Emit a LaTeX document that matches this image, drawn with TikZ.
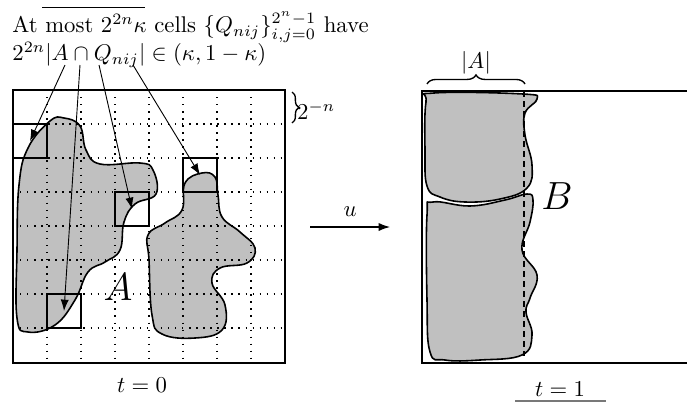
\documentclass[tikz,border=0pt]{standalone}
\usepackage{amsmath}
\usepackage{amssymb}
\usetikzlibrary{arrows.meta,positioning,decorations.pathreplacing}
\definecolor{blobcolor}{RGB}{192,192,192}
\definecolor{rulecolor}{RGB}{120,120,120}
\tikzset{
frame/.style={
  draw=black,
  line width=0.9pt
},
gridline/.style={
  draw=black,
  line width=0.45pt,
  dash pattern=on 0.6pt off 2.5pt
},
blob/.style={
  fill=blobcolor,
  draw=black,
  line width=0.7pt
},
cellbox/.style={
  draw=black,
  line width=1.3pt,
  minimum width=34*0.44pt,
  minimum height=34*0.44pt,
  inner sep=0pt
},
pointer/.style={
  -{Latex[length=5pt,width=3.6pt]},
  line width=0.4pt
},
maparrow/.style={
  -{Latex[length=5pt,width=3.6pt]},
  line width=0.5pt
},
levelline/.style={
  draw=black,
  line width=0.9pt,
  dash pattern=on 2.6pt off 1.8pt
},
bracedeco/.style={
  decorate,
  decoration={brace,amplitude=#1},
  line width=0.6pt
}
}

\begin{document}
\begin{tikzpicture}[x=0.44pt,y=-0.44pt]
  \useasboundingbox[fill=white] (0,0) rectangle (687,403);

  % Statement above the left panel
  \node[anchor=north west, align=left, inner sep=0pt] (claim) at (12,11)
    {At most $2^{2n}\kappa$ cells $\{Q_{nij}\}_{i,j=0}^{2^n-1}$ have\\[-1pt]
     $2^{2n}|A\cap Q_{nij}|\in(\kappa,1-\kappa)$};
  \coordinate (bar1) at (42,7);
  \coordinate (bar2) at (145,7);
  \draw[line width=0.4pt] (bar1) -- (bar2);

  % Set A at t = 0
  \draw[blob] plot[smooth cycle, tension=0.7] coordinates {
    (50,121) (64,118) (80,126) (86,150) (100,164) (140,163) (153,170)
    (156,194) (135,204) (124,222) (120,250) (105,262) (88,272)
    (75,300) (55,325) (28,332) (17,318) (17,250) (19,185) (28,148)};
  \draw[blob] plot[smooth cycle, tension=0.7] coordinates {
    (202,173) (215,177) (218,195) (222,217) (240,232) (255,248)
    (247,263) (220,268) (212,283) (225,305) (222,330) (195,338)
    (162,334) (152,315) (149,260) (148,235) (165,223) (182,210)
    (185,183)};
  \node[font=\LARGE, inner sep=0pt] (setA) at (118,287) {$A$};

  % Dyadic grid of side 2^{-n}
  \foreach \k in {1,...,7} {
    \draw[gridline] (13+34*\k,90) -- (13+34*\k,363);
    \draw[gridline] (13,90+34*\k) -- (285,90+34*\k);
  }

  % Cells met by the boundary
  \node[cellbox] (cellA) at (30,141) {};
  \node[cellbox] (cellB) at (132,209) {};
  \node[cellbox] (cellC) at (64,311) {};
  \node[cellbox] (cellD) at (200,175) {};

  \draw[frame] (13,90) rectangle (285,363);
  \draw[bracedeco=3pt] (292,92) -- (292,123)
    node[midway, right=2pt, yshift=-1.5pt, inner sep=0pt] (side) {$2^{-n}$};
  \node (time0) at (142,385) {$t=0$};

  % Pointers from the statement
  \coordinate (from1) at (65,65);
  \coordinate (from2) at (80,65);
  \coordinate (from3) at (99,65);
  \coordinate (from4) at (133,65);
  \draw[pointer] (from1) -- (cellA.center);
  \draw[pointer] (from2) -- (cellC.center);
  \draw[pointer] (from3) -- (cellB.center);
  \draw[pointer] (from4) -- (cellD.center);

  % The map u
  \coordinate (ustart) at (310,227);
  \coordinate (uend) at (390,227);
  \draw[maparrow] (ustart) -- node[above=1pt] (ulabel) {$u$} (uend);

  % Set B at t = 1
  \draw[blob] plot[smooth cycle, tension=0.7] coordinates {
    (434,93) (523,94) (537,99) (525,113) (525,135) (532,165)
    (527,188) (500,199) (465,202) (440,197) (427,186) (425,150)
    (426,102)};
  \draw[blob] plot[smooth cycle, tension=0.7] coordinates {
    (433,202) (470,206) (505,200) (527,194) (533,200) (530,222)
    (522,250) (537,275) (530,298) (526,312) (532,335) (522,355)
    (480,360) (445,360) (430,352) (427,300) (427,215)};
  \node[font=\LARGE, inner sep=0pt] (setB) at (557,196) {$B$};
  \coordinate (levtop) at (524,91);
  \coordinate (levbot) at (524,356);
  \draw[levelline] (levtop) -- (levbot);

  \draw[line width=0.9pt] (700,91) -- (422,91) -- (422,363) -- (700,363);
  \draw[bracedeco=4pt] (427,84) -- (525,84)
    node[midway, above=4pt, inner sep=0pt] (width) {$|A|$};
  \node (time1) at (560,389) {$t=1$};
  \coordinate (rule1) at (515,401);
  \coordinate (rule2) at (606,401);
  \draw[rulecolor, line width=0.6pt] (rule1) -- (rule2);
\end{tikzpicture}
\end{document}
